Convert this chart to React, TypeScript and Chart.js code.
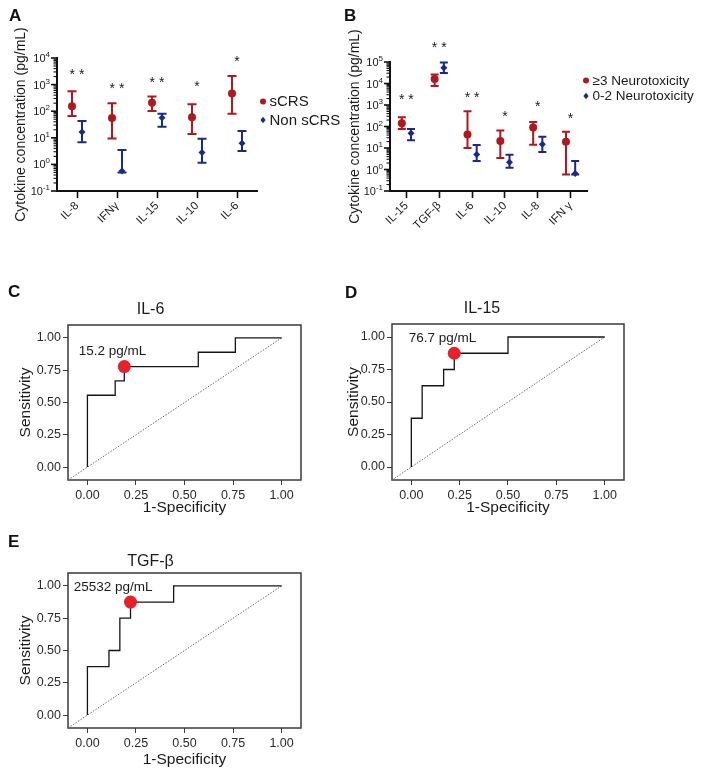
import React, { useEffect, useRef } from 'react';
import { Chart, registerables } from 'chart.js';

Chart.register(...registerables);

const FONT = "Arial, 'Liberation Sans', Helvetica, sans-serif";
const TEXT = '#1a1a1a';
const RED = '#B3171E';
const BLUE = '#1B2A8A';
const MARK_RED = '#E8202A';

Chart.defaults.font.family = FONT;
Chart.defaults.color = TEXT;

// ---------- Panel A ----------
const A_CATEGORIES = ['IL-8', 'IFNγ', 'IL-15', 'IL-10', 'IL-6'];
const A_SERIES = ['sCRS', 'Non sCRS'];
const A_SCRS_MEDIAN = [155, 55, 210, 59, 460];
const A_SCRS_LOW = [66, 9.5, 102, 13.8, 81];
const A_SCRS_HIGH = [565, 200, 355, 182, 2100];
const A_NON_MEDIAN = [16.6, 0.56, 57, 2.8, 6.2];
const A_NON_LOW = [6.8, 0.5, 26, 1.15, 3.2];
const A_NON_HIGH = [43, 3.5, 81, 9.3, 18];
const A_STARS = ['* *', '* *', '* *', '*', '*'];
const A_STAR_LEVEL = [3000, 900, 1500, 1070, 8700];
const A_Y_MIN = 0.1;
const A_Y_MAX = 10000;

// ---------- Panel B ----------
const B_CATEGORIES = ['IL-15', 'TGF-β', 'IL-6', 'IL-10', 'IL-8', 'IFN γ'];
const B_SERIES = ['≥3 Neurotoxicity', '0-2 Neurotoxicity'];
const B_HIGH_MEDIAN = [141, 16000, 42, 21, 91, 19.5];
const B_HIGH_LOW = [76, 7700, 10, 3.4, 14, 0.59];
const B_HIGH_HIGH = [270, 26500, 510, 66, 162, 57];
const B_LOW_MEDIAN = [48, 54000, 5.0, 2.2, 15, 0.65];
const B_LOW_LOW = [23, 31000, 2.5, 1.2, 6.6, 0.59];
const B_LOW_HIGH = [76, 96000, 13.7, 4.8, 33, 2.5];
const B_STARS = ['* *', '* *', '* *', '*', '*', '*'];
const B_STAR_LEVEL = [2400, 580000, 2900, 380, 1100, 310];
const B_Y_MIN = 0.1;
const B_Y_MAX = 100000;

const Y_TITLE = 'Cytokine concentration (pg/mL)';

// ---------- ROC panels ----------
const ROC_TICKS = [0, 0.25, 0.5, 0.75, 1];
const ROC_MIN = -0.1;
const ROC_MAX = 1.1;

const C_TITLE = 'IL-6';
const C_FPR = [0, 0, 0.143, 0.19, 0.571, 0.762, 1];
const C_TPR = [0, 0.556, 0.667, 0.778, 0.889, 1, 1];
const C_CUT_FPR = 0.19;
const C_CUT_TPR = 0.778;
const C_CUT_LABEL = '15.2 pg/mL';

const D_TITLE = 'IL-15';
const D_FPR = [0, 0, 0.056, 0.167, 0.222, 0.5, 1];
const D_TPR = [0, 0.375, 0.625, 0.75, 0.875, 1, 1];
const D_CUT_FPR = 0.222;
const D_CUT_TPR = 0.875;
const D_CUT_LABEL = '76.7 pg/mL';

const E_TITLE = 'TGF-β';
const E_FPR = [0, 0, 0.111, 0.167, 0.222, 0.444, 1];
const E_TPR = [0, 0.375, 0.5, 0.75, 0.875, 1, 1];
const E_CUT_FPR = 0.222;
const E_CUT_TPR = 0.875;
const E_CUT_LABEL = '25532 pg/mL';

type DotSeries = {
  label: string;
  median: number[];
  low: number[];
  high: number[];
  color: string;
  pointStyle: string;
  radius: number;
  dodge: number;
};

type DotCfg = {
  width: number;
  height: number;
  categories: string[];
  series: DotSeries[];
  stars: string[];
  starLevel: number[];
  yMin: number;
  yMax: number;
  padding: { left: number; top: number; right: number; bottom: number };
  yWidth: number;
  xHeight: number;
  yTitlePad: number;
  capHalf: number;
  legendFont: number;
  legendDx: number;
  legendDy: number[];
};

function makeDotChart(canvas: HTMLCanvasElement, cfg: DotCfg) {
  const plugin = {
    id: 'dotExtras',
    beforeDatasetsDraw(chart: any) {
      const ctx = chart.ctx;
      const xs = chart.scales.x;
      const ys = chart.scales.y;
      ctx.save();
      cfg.series.forEach((s) => {
        ctx.strokeStyle = s.color;
        ctx.lineWidth = 2;
        s.median.forEach((_, j) => {
          const x = xs.getPixelForValue(j + s.dodge);
          const yl = ys.getPixelForValue(s.low[j]);
          const yh = ys.getPixelForValue(s.high[j]);
          ctx.beginPath();
          ctx.moveTo(x, yl);
          ctx.lineTo(x, yh);
          ctx.moveTo(x - cfg.capHalf, yl);
          ctx.lineTo(x + cfg.capHalf, yl);
          ctx.moveTo(x - cfg.capHalf, yh);
          ctx.lineTo(x + cfg.capHalf, yh);
          ctx.stroke();
        });
      });
      ctx.restore();
    },
    afterDraw(chart: any) {
      const ctx = chart.ctx;
      const xs = chart.scales.x;
      const ys = chart.scales.y;
      const area = chart.chartArea;
      ctx.save();
      // log axis ticks and labels
      const lo = Math.round(Math.log10(cfg.yMin));
      const hi = Math.round(Math.log10(cfg.yMax));
      ctx.strokeStyle = '#111';
      for (let k = lo; k <= hi; k++) {
        const base = Math.pow(10, k);
        const y = ys.getPixelForValue(base);
        ctx.lineWidth = 1.6;
        ctx.beginPath();
        ctx.moveTo(area.left, y);
        ctx.lineTo(area.left - 6, y);
        ctx.stroke();
        if (k < hi) {
          ctx.lineWidth = 1.1;
          for (let m = 2; m <= 9; m++) {
            const ym = ys.getPixelForValue(m * base);
            ctx.beginPath();
            ctx.moveTo(area.left, ym);
            ctx.lineTo(area.left - 3.5, ym);
            ctx.stroke();
          }
        }
        // label 10^k
        const exp = String(k);
        ctx.fillStyle = TEXT;
        ctx.textBaseline = 'alphabetic';
        ctx.textAlign = 'right';
        ctx.font = `8px ${FONT}`;
        const ew = ctx.measureText(exp).width;
        const rightEdge = area.left - 7;
        ctx.fillText(exp, rightEdge, y - 1);
        ctx.font = `11px ${FONT}`;
        ctx.fillText('10', rightEdge - ew, y + 4);
      }
      // significance stars
      ctx.fillStyle = TEXT;
      ctx.textAlign = 'center';
      ctx.textBaseline = 'middle';
      ctx.font = `14px ${FONT}`;
      cfg.stars.forEach((s, j) => {
        ctx.fillText(s, xs.getPixelForValue(j), ys.getPixelForValue(cfg.starLevel[j]) + 3);
      });
      // legend
      cfg.series.forEach((s, i) => {
        const lx = area.right + cfg.legendDx;
        const ly = area.top + cfg.legendDy[i];
        ctx.fillStyle = s.color;
        ctx.beginPath();
        if (s.pointStyle === 'circle') {
          ctx.arc(lx, ly, 3, 0, Math.PI * 2);
        } else {
          ctx.moveTo(lx, ly - 3.2);
          ctx.lineTo(lx + 2.6, ly);
          ctx.lineTo(lx, ly + 3.2);
          ctx.lineTo(lx - 2.6, ly);
          ctx.closePath();
        }
        ctx.fill();
        ctx.fillStyle = TEXT;
        ctx.textAlign = 'left';
        ctx.textBaseline = 'middle';
        ctx.font = `${cfg.legendFont}px ${FONT}`;
        ctx.fillText(s.label, lx + 6.5, ly + 0.5);
      });
      ctx.restore();
    },
  };

  return new Chart(canvas, {
    type: 'scatter',
    data: {
      datasets: cfg.series.map((s) => ({
        label: s.label,
        data: s.median.map((v, j) => ({ x: j + s.dodge, y: v })),
        backgroundColor: s.color,
        borderColor: s.color,
        pointStyle: s.pointStyle as any,
        pointRadius: s.radius,
        pointBorderWidth: 0,
        showLine: false,
      })),
    },
    options: {
      responsive: false,
      animation: false,
      devicePixelRatio: 1,
      layout: { padding: cfg.padding },
      plugins: { legend: { display: false }, tooltip: { enabled: false } },
      scales: {
        x: {
          type: 'linear',
          min: -0.5,
          max: cfg.categories.length - 0.5,
          afterBuildTicks: (axis: any) => {
            axis.ticks = cfg.categories.map((_, i) => ({ value: i }));
          },
          afterFit: (axis: any) => {
            axis.height = cfg.xHeight;
          },
          grid: {
            display: true,
            drawOnChartArea: false,
            drawTicks: true,
            tickLength: 7,
            tickColor: '#111',
            tickWidth: 1.6,
          },
          border: { display: true, color: '#111', width: 2 },
          ticks: {
            autoSkip: false,
            minRotation: 45,
            maxRotation: 45,
            padding: 1,
            color: TEXT,
            font: { size: 11.5 },
            callback: (v: any) => cfg.categories[Math.round(Number(v))] ?? '',
          },
        },
        y: {
          type: 'logarithmic',
          min: cfg.yMin,
          max: cfg.yMax,
          afterFit: (axis: any) => {
            axis.width = cfg.yWidth;
          },
          grid: { display: false },
          border: { display: true, color: '#111', width: 2 },
          ticks: { display: false },
          title: {
            display: true,
            text: Y_TITLE,
            color: TEXT,
            font: { size: 14 },
            padding: { top: cfg.yTitlePad, bottom: 0 },
          },
        },
      },
    } as any,
    plugins: [plugin],
  });
}

type RocCfg = {
  title: string;
  fpr: number[];
  tpr: number[];
  cutFpr: number;
  cutTpr: number;
  cutLabel: string;
  padding: { left: number; top: number; right: number; bottom: number };
  titlePad: { top: number; bottom: number };
  yWidth: number;
  xHeight: number;
  yTitlePad: number;
  xTitlePad: number;
};

function makeRocChart(canvas: HTMLCanvasElement, cfg: RocCfg) {
  const plugin = {
    id: 'rocExtras',
    beforeDatasetsDraw(chart: any) {
      const ctx = chart.ctx;
      const a = chart.chartArea;
      ctx.save();
      ctx.strokeStyle = '#3a3a3a';
      ctx.lineWidth = 1.5;
      ctx.strokeRect(a.left, a.top, a.right - a.left, a.bottom - a.top);
      ctx.restore();
    },
    afterDraw(chart: any) {
      const ctx = chart.ctx;
      const pt = chart.getDatasetMeta(2).data[0];
      if (!pt) return;
      ctx.save();
      ctx.fillStyle = TEXT;
      ctx.textAlign = 'right';
      ctx.textBaseline = 'middle';
      ctx.font = `13.5px ${FONT}`;
      ctx.fillText(cfg.cutLabel, pt.x + 22, pt.y - 15);
      ctx.restore();
    },
  };

  const axisCommon = {
    type: 'linear',
    min: ROC_MIN,
    max: ROC_MAX,
    afterBuildTicks: (axis: any) => {
      axis.ticks = ROC_TICKS.map((v) => ({ value: v }));
    },
    grid: {
      display: true,
      drawOnChartArea: false,
      drawTicks: true,
      tickLength: 5,
      tickColor: '#3a3a3a',
      tickWidth: 1,
    },
    border: { display: false },
  };

  return new Chart(canvas, {
    type: 'line',
    data: {
      datasets: [
        {
          data: cfg.fpr.map((x, i) => ({ x, y: cfg.tpr[i] })),
          borderColor: '#151515',
          borderWidth: 1.3,
          pointRadius: 0,
          stepped: 'before',
          fill: false,
          order: 1,
        },
        {
          data: [
            { x: ROC_MIN, y: ROC_MIN },
            { x: 1, y: 1 },
          ],
          borderColor: '#666',
          borderWidth: 1,
          borderDash: [1.5, 1.5],
          pointRadius: 0,
          fill: false,
          order: 2,
        },
        {
          data: [{ x: cfg.cutFpr, y: cfg.cutTpr }],
          showLine: false,
          pointRadius: 6.5,
          pointBorderWidth: 0,
          backgroundColor: MARK_RED,
          borderColor: MARK_RED,
          order: 0,
        },
      ],
    },
    options: {
      responsive: false,
      animation: false,
      devicePixelRatio: 1,
      layout: { padding: cfg.padding },
      plugins: {
        legend: { display: false },
        tooltip: { enabled: false },
        title: {
          display: true,
          text: cfg.title,
          color: TEXT,
          font: { size: 16, weight: 'normal' },
          padding: cfg.titlePad,
        },
      },
      scales: {
        x: {
          ...axisCommon,
          afterFit: (axis: any) => {
            axis.height = cfg.xHeight;
          },
          ticks: {
            padding: 3,
            color: '#2a2a2a',
            font: { size: 12.5 },
            maxRotation: 0,
            autoSkip: false,
            callback: (v: any) => Number(v).toFixed(2),
          },
          title: {
            display: true,
            text: '1-Specificity',
            color: TEXT,
            font: { size: 15.5 },
            padding: { top: 0, bottom: cfg.xTitlePad },
          },
        },
        y: {
          ...axisCommon,
          afterFit: (axis: any) => {
            axis.width = cfg.yWidth;
          },
          ticks: {
            padding: 2,
            color: '#2a2a2a',
            font: { size: 12.5 },
            autoSkip: false,
            callback: (v: any) => Number(v).toFixed(2),
          },
          title: {
            display: true,
            text: 'Sensitivity',
            color: TEXT,
            font: { size: 15.5 },
            padding: { top: cfg.yTitlePad, bottom: 0 },
          },
        },
      },
    } as any,
    plugins: [plugin],
  });
}

function DotPanel({ left, top, cfg }: { left: number; top: number; cfg: DotCfg }) {
  const ref = useRef<HTMLCanvasElement>(null);
  useEffect(() => {
    if (!ref.current) return;
    const c = makeDotChart(ref.current, cfg);
    return () => c.destroy();
  }, []);
  return (
    <canvas
      ref={ref}
      width={cfg.width}
      height={cfg.height}
      style={{ position: 'absolute', left, top, width: cfg.width, height: cfg.height }}
    />
  );
}

function RocPanel({ left, top, width, height, cfg }: { left: number; top: number; width: number; height: number; cfg: RocCfg }) {
  const ref = useRef<HTMLCanvasElement>(null);
  useEffect(() => {
    if (!ref.current) return;
    const c = makeRocChart(ref.current, cfg);
    return () => c.destroy();
  }, []);
  return (
    <canvas
      ref={ref}
      width={width}
      height={height}
      style={{ position: 'absolute', left, top, width, height }}
    />
  );
}

function Letter({ x, y, text }: { x: number; y: number; text: string }) {
  return (
    <div
      style={{
        position: 'absolute',
        left: x,
        top: y,
        fontFamily: FONT,
        fontWeight: 'bold',
        fontSize: 17,
        lineHeight: '17px',
        color: '#111',
      }}
    >
      {text}
    </div>
  );
}

const A_CFG: DotCfg = {
  width: 340,
  height: 262,
  categories: A_CATEGORIES,
  series: [
    { label: A_SERIES[0], median: A_SCRS_MEDIAN, low: A_SCRS_LOW, high: A_SCRS_HIGH, color: RED, pointStyle: 'circle', radius: 4, dodge: -0.125 },
    { label: A_SERIES[1], median: A_NON_MEDIAN, low: A_NON_LOW, high: A_NON_HIGH, color: BLUE, pointStyle: 'rectRot', radius: 3.5, dodge: 0.125 },
  ],
  stars: A_STARS,
  starLevel: A_STAR_LEVEL,
  yMin: A_Y_MIN,
  yMax: A_Y_MAX,
  padding: { left: 0, top: 58, right: 83, bottom: 19 },
  yWidth: 57,
  xHeight: 52,
  yTitlePad: 13,
  capHalf: 4.5,
  legendFont: 15,
  legendDx: 6,
  legendDy: [43.5, 62],
};

const B_CFG: DotCfg = {
  width: 364,
  height: 262,
  categories: B_CATEGORIES,
  series: [
    { label: B_SERIES[0], median: B_HIGH_MEDIAN, low: B_HIGH_LOW, high: B_HIGH_HIGH, color: RED, pointStyle: 'circle', radius: 4, dodge: -0.14 },
    { label: B_SERIES[1], median: B_LOW_MEDIAN, low: B_LOW_LOW, high: B_LOW_HIGH, color: BLUE, pointStyle: 'rectRot', radius: 3.5, dodge: 0.14 },
  ],
  stars: B_STARS,
  starLevel: B_STAR_LEVEL,
  yMin: B_Y_MIN,
  yMax: B_Y_MAX,
  padding: { left: 0, top: 62, right: 117, bottom: 19 },
  yWidth: 50,
  xHeight: 52,
  yTitlePad: 6.6,
  capHalf: 4,
  legendFont: 13.5,
  legendDx: -1,
  legendDy: [18.5, 34],
};

const C_CFG: RocCfg = {
  title: C_TITLE,
  fpr: C_FPR,
  tpr: C_TPR,
  cutFpr: C_CUT_FPR,
  cutTpr: C_CUT_TPR,
  cutLabel: C_CUT_LABEL,
  padding: { left: 0, top: 20, right: 29, bottom: 0 },
  titlePad: { top: 10.4, bottom: 5.4 },
  yWidth: 68,
  xHeight: 40,
  yTitlePad: 16,
  xTitlePad: 3,
};

const D_CFG: RocCfg = {
  title: D_TITLE,
  fpr: D_FPR,
  tpr: D_TPR,
  cutFpr: D_CUT_FPR,
  cutTpr: D_CUT_TPR,
  cutLabel: D_CUT_LABEL,
  padding: { left: 0, top: 20, right: 46, bottom: 0 },
  titlePad: { top: 9.4, bottom: 5.4 },
  yWidth: 52,
  xHeight: 40,
  yTitlePad: 4,
  xTitlePad: 3,
};

const E_CFG: RocCfg = {
  title: E_TITLE,
  fpr: E_FPR,
  tpr: E_TPR,
  cutFpr: E_CUT_FPR,
  cutTpr: E_CUT_TPR,
  cutLabel: E_CUT_LABEL,
  padding: { left: 0, top: 20, right: 29, bottom: 0 },
  titlePad: { top: 12.4, bottom: 1.4 },
  yWidth: 68,
  xHeight: 50,
  yTitlePad: 16,
  xTitlePad: 9,
};

export default function App() {
  return (
    <div style={{ position: 'absolute', left: 0, top: 0, width: 704, height: 778, background: '#fff' }}>
      <DotPanel left={0} top={0} cfg={A_CFG} />
      <DotPanel left={340} top={0} cfg={B_CFG} />
      <RocPanel left={0} top={270} width={330} height={250} cfg={C_CFG} />
      <RocPanel left={340} top={270} width={330} height={250} cfg={D_CFG} />
      <RocPanel left={0} top={520} width={330} height={258} cfg={E_CFG} />
      <Letter x={9} y={7} text="A" />
      <Letter x={344} y={7} text="B" />
      <Letter x={8} y={283} text="C" />
      <Letter x={345} y={284} text="D" />
      <Letter x={8} y={533} text="E" />
    </div>
  );
}
